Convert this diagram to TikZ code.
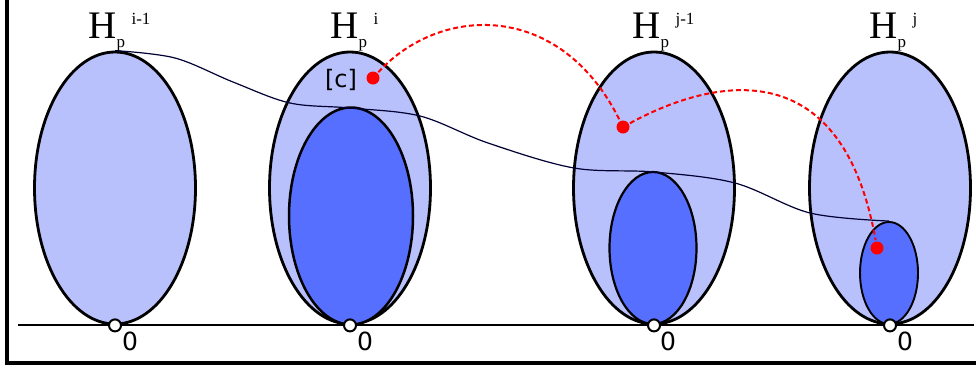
\documentclass[tikz,border=0pt]{standalone}
\usepackage{fontspec}
\setmainfont{DejaVu Sans}
\newfontfamily\serifH{Liberation Serif}
\usetikzlibrary{shapes.geometric}

\definecolor{shellblue}{RGB}{185,193,252}
\definecolor{coreblue}{RGB}{86,111,255}
\newcommand{\hp}[1]{{\fontsize{39}{39}\selectfont H}\rlap{\raisebox{-9pt}{\fontsize{17}{17}\selectfont p}}\hspace{15pt}\raisebox{14pt}{\fontsize{17}{17}\selectfont #1}}

\begin{document}
\begin{tikzpicture}[x=1pt, y=-1pt, line width=2.8pt,
  shell/.style={ellipse, draw, fill=shellblue, inner sep=0pt, minimum width=161pt, minimum height=272pt},
  core/.style={ellipse, draw, fill=coreblue, inner sep=0pt, line width=2.5pt},
  origin/.style={circle, draw, fill=white, inner sep=0pt, minimum size=12pt, line width=2pt},
  cls/.style={circle, fill=red, inner sep=0pt, minimum size=13pt},
  zero/.style={font=\fontsize{25}{25}\selectfont},
  head/.style={anchor=base west, inner sep=0pt, font=\serifH}]
  \useasboundingbox (0,0) rectangle (976,373);
  % frame and axis
  \coordinate (fa) at (7,0);
  \coordinate (fb) at (7,363);
  \coordinate (fc) at (976,363);
  \draw[line width=3.2pt] (fa) -- (fb) -- (fc);
  \coordinate (L) at (18,325);
  \coordinate (R) at (974,325);
  \draw[line width=1.5pt] (L) -- (R);

  % the four sets
  \node[shell] (E1) at (115,188) {};
  \node[shell] (E2) at (350,188) {};
  \node[core, minimum width=124pt, minimum height=217pt] (E2c) at (351,216) {};
  \node[shell] (E3) at (654,188) {};
  \node[core, minimum width=87pt, minimum height=152pt, line width=2.2pt] (E3c) at (653,248) {};
  \node[shell] (E4) at (890,188) {};
  \node[core, minimum width=58pt, minimum height=102pt, line width=1.9pt] (E4c) at (889,273) {};

  % thin path
  \draw[line width=1.2pt, black!80!blue] plot[smooth, tension=0.55] coordinates {(E1.north) (175,58) (233,82) (290,103) (350,108) (420,116) (488,143) (574,168) (654,172) (735,183) (810,213) (E4c.north)};

  % origins
  \foreach \e/\n in {E1/1, E2/2, E3/3, E4/4}
    \node[origin] (o\n) at (\e.south) {};
  \node[zero] (z1) at (130,341) {0};
  \node[zero] (z2) at (365,341) {0};
  \node[zero] (z3) at (668,341) {0};
  \node[zero] (z4) at (905,341) {0};

  % labels
  \node[head] (h1) at (87,38) {\hp{i-1}};
  \node[head] (h2) at (329,38) {\hp{i}};
  \node[head] (h3) at (631,38) {\hp{j-1}};
  \node[head] (h4) at (868,38) {\hp{j}};
  \node[font=\fontsize{24}{24}\selectfont] (cl) at (341,80) {[c]};

  % red chain
  \node[cls] (c1) at (373,78) {};
  \node[cls] (c2) at (623,127) {};
  \node[cls] (c3) at (877,248) {};
  \draw[red, line width=2pt, dash pattern=on 5pt off 3pt] (c1) .. controls (440,5) and (560,0) .. (c2);
  \draw[red, line width=2pt, dash pattern=on 5pt off 3pt] (c2) .. controls (700,85) and (840,40) .. (c3);
\end{tikzpicture}
\end{document}
